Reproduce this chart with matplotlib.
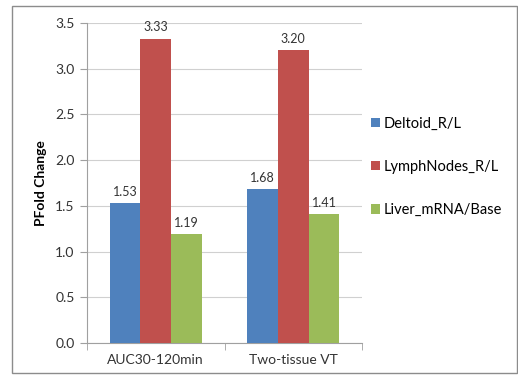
import matplotlib
matplotlib.use("Agg")
import matplotlib.pyplot as plt
import numpy as np
from matplotlib.patches import Rectangle

categories = ["AUC30-120min", "Two-tissue VT"]
series = ["Deltoid_R/L", "LymphNodes_R/L", "Liver_mRNA/Base"]
deltoid = [1.53, 1.68]
lymph = [3.33, 3.20]
liver = [1.19, 1.41]
colors = ["#4F81BD", "#C0504D", "#9BBB59"]

plt.rcParams['font.family'] = ['Lato', 'DejaVu Sans']

fig = plt.figure(figsize=(5.18, 3.83), dpi=100)
fig.patches.append(Rectangle((12/518, 10/383), 505/518, 367/383, transform=fig.transFigure,
                             fill=False, edgecolor="#8c8c8c", linewidth=1))
ax = fig.add_axes([87/518, 40/383, 275/518, 320/383])

x = np.arange(len(categories))
w = 0.223
for i, (vals, name) in enumerate(zip([deltoid, lymph, liver], series)):
    bars = ax.bar(x + (i - 1) * w, vals, w, color=colors[i], label=name, zorder=3)
    for b, v in zip(bars, vals):
        ax.text(b.get_x() + b.get_width() / 2, v + 0.06, f"{v:.2f}", ha="center", va="bottom",
                fontsize=9, color="#333333")

ax.set_xlim(-0.5, 1.5)
ax.set_ylim(0, 3.5)
ax.set_yticks(np.arange(0, 3.51, 0.5))
ax.set_yticklabels([f"{t:.1f}" for t in np.arange(0, 3.51, 0.5)], fontsize=10, color="#333333")
ax.set_xticks(x)
ax.set_xticklabels(categories, fontsize=10, color="#333333")
ax.set_xticks([-0.5, 0.5, 1.5], minor=True)
ax.tick_params(axis="x", which="major", length=0, pad=8)
ax.tick_params(axis="x", which="minor", length=5, color="#a0a0a0", direction="out")
ax.tick_params(axis="y", length=5, color="#a0a0a0", pad=4)
ax.grid(axis="y", color="#d0d0d0", linewidth=0.8, zorder=0)
for s in ["top", "right"]:
    ax.spines[s].set_visible(False)
for s in ["left", "bottom"]:
    ax.spines[s].set_color("#a0a0a0")
ax.set_ylabel("PFold Change", fontsize=10, fontweight="bold", labelpad=6)

ax.legend(loc="center left", bbox_to_anchor=(1.0, 0.55), frameon=False, fontsize=10.5,
          handlelength=0.6, handleheight=0.6, handletextpad=0.3, labelspacing=2.0,
          borderaxespad=0.2)

fig.savefig("out.png", dpi=100)
